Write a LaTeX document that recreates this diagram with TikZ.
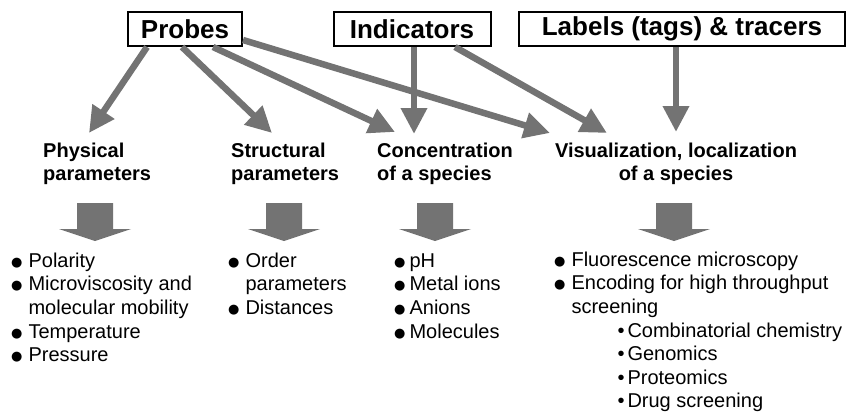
\documentclass[tikz,border=0pt]{standalone}
\usepackage{fontspec}
\setmainfont{Liberation Sans}
\newfontfamily\dejavu{DejaVu Sans}
\usepackage{xcolor}
\usepackage{tikz}
\usetikzlibrary{arrows.meta,calc}
\definecolor{arrowgray}{gray}{0.45}
\tikzset{>={Triangle[length=26pt,width=25pt]},
    source/.style={draw, line width=2pt, minimum height=34pt, inner sep=0pt,
      font=\bfseries\fontsize{26}{30}\selectfont},
    feed/.style={draw=arrowgray, line width=6.5pt, ->}}
\newcommand{\bul}{\raisebox{1pt}{\dejavu\fontsize{13}{13}\selectfont ●}}

\begin{document}
\begin{tikzpicture}[x=1pt, y=-1pt,
      heading/.style={inner sep=0pt, font=\bfseries\fontsize{20}{23}\selectfont},
      items/.style={inner sep=0pt, anchor=north west, font=\fontsize{20}{23.6}\selectfont}]
  \useasboundingbox (0,0) rectangle (849,415);
  % Sources
  \node[source, minimum width=114pt] (probes) at (185,29) {Probes};
  \node[source, minimum width=157pt] (indicators) at (412,29) {Indicators};
  \node[source, minimum width=326pt] (labels) at (682,29) {Labels (tags) \& tracers};
  % What is measured
  \node[heading, align=left, anchor=north west] (phys) at (43,142.5) {Physical\\parameters};
  \node[heading, align=left, anchor=north west] (struct) at (231,142.5) {Structural\\parameters};
  \node[heading, align=left, anchor=north west] (conc) at (377,142.5) {Concentration\\of a species};
  \node[heading, align=center, anchor=north] (visu) at (676,142.5) {Visualization, localization\\of a species};
  \coordinate (t1) at (89,133);
  \coordinate (t2) at (272,133);
  \coordinate (t3) at (395,132);
  \coordinate (t4) at (550,133);
  \coordinate (t5) at (414,134);
  \coordinate (t6) at (607,133);
  \coordinate (t7) at (676,132);
  % Feeds from the sources
  \draw[feed] (147,0|-probes.south) -- (t1);
  \draw[feed] (182,0|-probes.south) -- (t2);
  \draw[feed] (213,0|-probes.south) -- (t3);
  \draw[feed] (probes.east|-0,40) -- (t4);
  \draw[feed] (414,0|-indicators.south) -- (t5);
  \draw[feed] (455,0|-indicators.south) -- (t6);
  \draw[feed] (676,0|-labels.south) -- (t7);
  % Block arrows
  \foreach \x in {95,284,435,674}
    \fill[arrowgray] ({\x-18},203) -- ++(36,0) -- ++(0,26) -- ++(18,0)
      -- (\x,241) -- ({\x-36},229) -- ++(18,0) -- cycle;
  % Lists
  \node[items] (physlist) at (11,250.5) {\begin{tabular}{@{}l@{\hspace{6pt}}l@{}}
    \bul & Polarity\\
    \bul & Microviscosity and\\
         & molecular mobility\\
    \bul & Temperature\\
    \bul & Pressure
  \end{tabular}};
  \node[items] (structlist) at (228,250.5) {\begin{tabular}{@{}l@{\hspace{6pt}}l@{}}
    \bul & Order\\
         & parameters\\
    \bul & Distances
  \end{tabular}};
  \node[items] (conclist) at (394,250.5) {\begin{tabular}{@{}l@{\hspace{4pt}}l@{}}
    \bul & pH\\
    \bul & Metal ions\\
    \bul & Anions\\
    \bul & Molecules
  \end{tabular}};
  \node[items] (visulist) at (554,249.5) {\begin{tabular}{@{}l@{\hspace{6pt}}l@{}}
    \bul & Fluorescence microscopy\\
    \bul & Encoding for high throughput\\
         & screening\\
         & \hspace{46pt}\textbullet\hspace{3pt}Combinatorial chemistry\\
         & \hspace{46pt}\textbullet\hspace{3pt}Genomics\\
         & \hspace{46pt}\textbullet\hspace{3pt}Proteomics\\
         & \hspace{46pt}\textbullet\hspace{3pt}Drug screening
  \end{tabular}};
\end{tikzpicture}
\end{document}
